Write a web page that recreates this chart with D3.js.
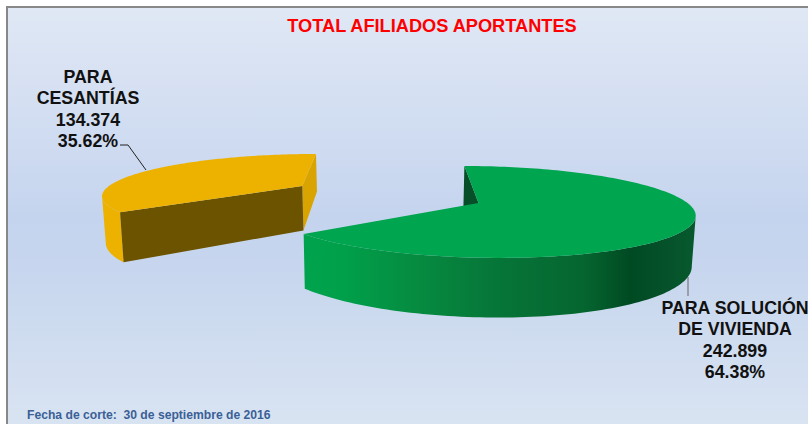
<!DOCTYPE html>
<html>
<head>
  <meta charset="utf-8">
  <title>Total afiliados aportantes</title>
  <script src="https://d3js.org/d3.v7.min.js"></script>
  <style>
    html, body { margin: 0; padding: 0; background: #fff; overflow: hidden; }
    svg { display: block; }
    text { font-family: "Liberation Sans", Arial, sans-serif; font-weight: bold; white-space: pre; }
    .label { font-size: 17.8px; fill: #111; text-anchor: middle; }
    .title { font-size: 18.2px; fill: #f00; text-anchor: middle; }
    .note { font-size: 12.15px; fill: #3b5f96; }
  </style>
</head>
<body>
  <svg width="808" height="424"></svg>

  <script>
    // Datos
    var categories = [["PARA SOLUCIÓN", "DE VIVIENDA"], ["PARA", "CESANTÍAS"]];
    var values = [242899, 134374];
    var valueLabels = ["242.899", "134.374"];
    var percentLabels = ["64.38%", "35.62%"];
    var titleText = "TOTAL AFILIADOS APORTANTES";
    var noteText = "Fecha de corte:  30 de septiembre de 2016";

    // Perspectiva del pastel
    var radius = 209, flatten = 44.2, depth = 0.195, thickness = 48, taper = 0.987;
    var vanishX = 392, baseY = 203;

    var svg = d3.select("svg");
    var defs = svg.append("defs");

    var bg = defs.append("linearGradient").attr("id", "bg")
      .attr("x1", 0).attr("y1", 0).attr("x2", 0).attr("y2", 1);
    [[0, "#e0e8f5"], [0.5, "#c5d4ee"], [0.62, "#c7d6ee"], [1, "#d9e4f2"]].forEach(function(s) {
      bg.append("stop").attr("offset", s[0]).attr("stop-color", s[1]);
    });

    var wall = defs.append("linearGradient").attr("id", "greenWall")
      .attr("gradientUnits", "userSpaceOnUse")
      .attr("x1", 304).attr("y1", 0).attr("x2", 692).attr("y2", 0);
    [[0, "#00a34d"], [0.1, "#00a04a"], [0.3, "#068a40"], [0.5, "#067538"],
     [0.72, "#05662f"], [0.84, "#004a22"], [0.93, "#05512a"], [1, "#07592d"]].forEach(function(s) {
      wall.append("stop").attr("offset", s[0]).attr("stop-color", s[1]);
    });

    svg.append("rect").attr("x", 7).attr("y", 7).attr("width", 803).attr("height", 420)
      .attr("fill", "url(#bg)").attr("stroke", "#888").attr("stroke-width", 2);

    // x, z del mundo a pantalla
    function project(x, z, down) {
      var s = 1 / (1 - depth * z);
      var px = x * s * (down ? taper : 1);
      return [vanishX + px, baseY + s * (flatten * z + (down ? thickness : 0))];
    }

    function rim(center, angle, down) {
      return project(center[0] + radius * Math.sin(angle), center[1] - Math.cos(angle), down);
    }

    var line = d3.line();
    var pie = d3.pie().sort(null)(values);

    // centro de cada porción (separadas sobre el ángulo medio)
    var centers = [[86.5, 0], [-97, -0.416]];
    var styles = [
      { top: "#00a54f", wall: "url(#greenWall)", start: "#064f28", end: "#064f28" },
      { top: "#edb200", wall: "#edb200", start: "#6b5300", end: "#d9a300" }
    ];

    function arcAngles(a0, a1) {
      var n = 160;
      return d3.range(n + 1).map(function(i) { return a0 + (a1 - a0) * i / n; });
    }

    pie.forEach(function(d, i) {
      var c = centers[i], st = styles[i];
      var tip = project(c[0], c[1]), tipDown = project(c[0], c[1], true);
      var a0 = d.startAngle, a1 = d.endAngle;
      var angles = arcAngles(a0, a1);
      var g = svg.append("g");

      // pared exterior: solo la parte visible, desde la silueta
      var edge = i === 0
        ? d3.greatestIndex(angles, function(a) { return rim(c, a)[0]; })
        : d3.leastIndex(angles, function(a) { return rim(c, a)[0]; });
      var seen = i === 0 ? angles.slice(edge) : angles.slice(0, edge + 1);
      var upper = seen.map(function(a) { return rim(c, a); });
      var lower = seen.map(function(a) { return rim(c, a, true); });
      g.append("path")
        .attr("d", line(upper.concat(lower.reverse())) + "Z")
        .attr("fill", st.wall);

      // cara del corte final (derecha / atrás)
      var back = i ? a1 : a0;
      g.append("path")
        .attr("d", line([rim(c, back), tip, tipDown, rim(c, back, true)]) + "Z")
        .attr("fill", st.end);

      // cara frontal de la porción amarilla
      if (i === 1) {
        g.append("path")
          .attr("d", line([rim(c, a0), tip, tipDown, rim(c, a0, true)]) + "Z")
          .attr("fill", st.start);
      }

      // superficie
      g.append("path")
        .attr("d", line([tip].concat(angles.map(function(a) { return rim(c, a); }))) + "Z")
        .attr("fill", st.top);
    });

    // líneas guía
    svg.append("path").attr("d", line([[120, 145], [128, 145], [146, 170]]))
      .attr("fill", "none").attr("stroke", "#222").attr("stroke-width", 1);
    svg.append("path").attr("d", line([[688, 277], [688, 296]]))
      .attr("fill", "none").attr("stroke", "#666").attr("stroke-width", 1);

    // etiquetas
    var labelPos = [[735, 314], [88, 83]];
    categories.forEach(function(cat, i) {
      var rows = cat.concat([valueLabels[i], percentLabels[i]]);
      var t = svg.append("text").attr("class", "label")
        .attr("x", labelPos[i][0]).attr("y", labelPos[i][1]);
      t.selectAll("tspan").data(rows).enter().append("tspan")
        .attr("x", labelPos[i][0])
        .attr("dy", function(r, j) { return j ? 21.4 : 0; })
        .text(function(r) { return r; });
    });

    svg.append("text").attr("class", "title").attr("x", 432).attr("y", 32).text(titleText);
    svg.append("text").attr("class", "note").attr("x", 27).attr("y", 419).text(noteText);
  </script>
</body>
</html>
